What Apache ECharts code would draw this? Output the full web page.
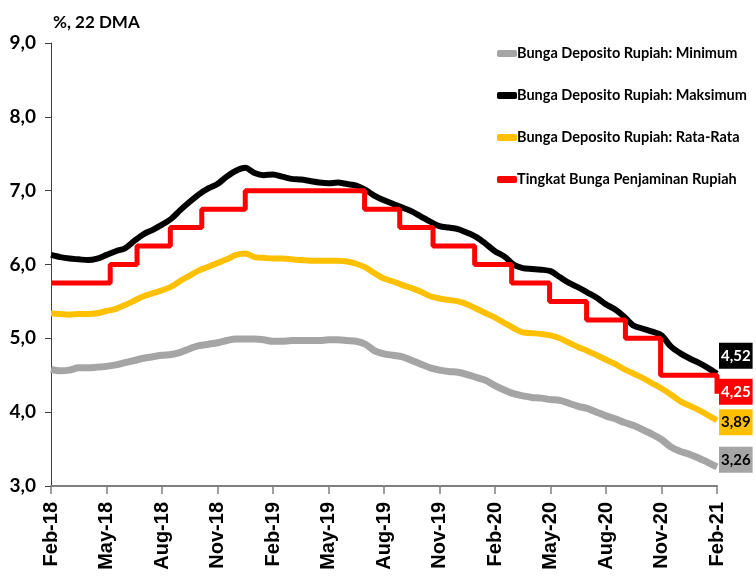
<!DOCTYPE html>
<html>
<head>
<meta charset="utf-8">
<script src="https://cdn.jsdelivr.net/npm/echarts@6/dist/echarts.min.js"></script>
<style>
  html, body { margin: 0; padding: 0; background: #fff; }
  #chart { width: 756px; height: 586px; }
</style>
</head>
<body>
<div id="chart"></div>
<script>
// x axis: months since Feb-18, one tick per quarter
var xLabels = ['Feb-18', 'May-18', 'Aug-18', 'Nov-18', 'Feb-19', 'May-19', 'Aug-19',
               'Nov-19', 'Feb-20', 'May-20', 'Aug-20', 'Nov-20', 'Feb-21'];

// 22 DMA values, sampled every half month from Feb-18 to Feb-21
var minimumVals = [4.58, 4.56, 4.57, 4.60, 4.60, 4.61, 4.62, 4.64, 4.67, 4.70,
                   4.73, 4.75, 4.77, 4.78, 4.81, 4.86, 4.90, 4.92, 4.94, 4.97,
                   4.99, 4.99, 4.99, 4.98, 4.96, 4.96, 4.97, 4.97, 4.97, 4.97,
                   4.98, 4.98, 4.97, 4.96, 4.92, 4.83, 4.79, 4.77, 4.75, 4.70,
                   4.65, 4.60, 4.57, 4.55, 4.54, 4.51, 4.47, 4.43, 4.36, 4.30,
                   4.25, 4.22, 4.20, 4.19, 4.17, 4.16, 4.12, 4.08, 4.05, 4.00,
                   3.95, 3.91, 3.86, 3.82, 3.76, 3.70, 3.63, 3.53, 3.47, 3.43,
                   3.38, 3.32, 3.26];
var maksimumVals = [6.13, 6.10, 6.08, 6.07, 6.06, 6.08, 6.13, 6.18, 6.22, 6.32,
                    6.41, 6.47, 6.54, 6.62, 6.74, 6.85, 6.95, 7.03, 7.09, 7.19,
                    7.27, 7.31, 7.24, 7.21, 7.22, 7.19, 7.16, 7.15, 7.13, 7.11,
                    7.10, 7.11, 7.09, 7.07, 7.01, 6.93, 6.87, 6.82, 6.77, 6.72,
                    6.65, 6.58, 6.52, 6.50, 6.48, 6.43, 6.37, 6.28, 6.18, 6.11,
                    6.00, 5.95, 5.94, 5.93, 5.91, 5.83, 5.75, 5.69, 5.62, 5.55,
                    5.46, 5.39, 5.29, 5.17, 5.13, 5.09, 5.04, 4.89, 4.80, 4.73,
                    4.67, 4.60, 4.52];
var rataVals = [5.34, 5.33, 5.32, 5.33, 5.33, 5.34, 5.37, 5.40, 5.45, 5.51,
                5.57, 5.61, 5.65, 5.70, 5.78, 5.85, 5.92, 5.97, 6.02, 6.07,
                6.13, 6.15, 6.10, 6.09, 6.08, 6.08, 6.07, 6.06, 6.05, 6.05,
                6.05, 6.05, 6.04, 6.01, 5.96, 5.88, 5.81, 5.77, 5.72, 5.68,
                5.63, 5.57, 5.54, 5.52, 5.50, 5.46, 5.40, 5.34, 5.28, 5.21,
                5.14, 5.08, 5.07, 5.06, 5.04, 5.00, 4.94, 4.88, 4.83, 4.77,
                4.71, 4.65, 4.58, 4.52, 4.46, 4.39, 4.32, 4.24, 4.15, 4.09,
                4.03, 3.96, 3.89];

// LPS guarantee rate: month of each change and the new rate
var lpsMonths = [0, 3.2, 4.65, 6.45, 8.15, 10.5, 16.95, 18.85, 20.65, 22.9,
                 24.9, 26.95, 28.95, 31.05, 32.95, 36];
var lpsRates = [5.75, 6.00, 6.25, 6.50, 6.75, 7.00, 6.75, 6.50, 6.25, 6.00,
                5.75, 5.50, 5.25, 5.00, 4.50, 4.25];

var seriesNames = ['Bunga Deposito Rupiah: Minimum', 'Bunga Deposito Rupiah: Maksimum',
                   'Bunga Deposito Rupiah: Rata-Rata', 'Tingkat Bunga Penjaminan Rupiah'];
var colors = ['#a5a5a5', '#000000', '#ffc000', '#ff0000'];

var narrow = "Lato, sans-serif";

function halfMonthPairs(vals) {
    return vals.map(function (v, i) { return [i / 2, v]; });
}
function comma(v, d) {
    return v.toFixed(d).replace('.', ',');
}
function endLabel(bg, fg, dy) {
    return {
        show: true,
        distance: 2,
        offset: [0, dy],
        backgroundColor: bg,
        color: fg,
        padding: [6, 2, 5, 2],
        fontFamily: narrow,
        fontWeight: 'bold',
        fontSize: 15,
        formatter: function (p) { return comma(p.value[1], 2); }
    };
}

var chart = echarts.init(document.getElementById('chart'));

var option = {
    animation: false,
    color: colors,
    title: {
        text: '%, 22 DMA',
        left: 48,
        top: 9,
        textStyle: { fontFamily: narrow, fontWeight: 'bold', fontSize: 17, color: '#000' }
    },
    legend: {
        orient: 'vertical',
        left: 492,
        top: 41,
        itemGap: 27,
        itemWidth: 20,
        itemHeight: 7,
        icon: 'roundRect',
        textStyle: { fontFamily: narrow, fontWeight: 'bold', fontSize: 14.5, color: '#000', padding: [0, 0, 0, -5] },
        data: seriesNames
    },
    grid: {
        left: 51,
        right: 39,
        top: 43,
        bottom: 100
    },
    xAxis: {
        type: 'value',
        min: 0,
        max: 36,
        interval: 3,
        splitLine: { show: false },
        axisLine: { lineStyle: { color: '#7f7f7f', width: 2 } },
        axisTick: { show: true, length: 8, lineStyle: { color: '#7f7f7f', width: 1.5 } },
        axisLabel: {
            rotate: 90,
            margin: 16,
            fontFamily: "'Liberation Sans', Arial, sans-serif",
            fontWeight: 'bold',
            fontSize: 20,
            color: '#000',
            formatter: function (v) { return xLabels[Math.round(v / 3)]; }
        }
    },
    yAxis: {
        type: 'value',
        min: 3,
        max: 9,
        interval: 1,
        splitLine: { show: false },
        axisLine: { show: true, lineStyle: { color: '#404040', width: 1 } },
        axisTick: { show: true, length: 6, lineStyle: { color: '#404040' } },
        axisLabel: {
            margin: 15,
            fontFamily: narrow,
            fontWeight: 'bold',
            fontSize: 19,
            color: '#000',
            formatter: function (v) { return comma(v, 1); }
        }
    },
    series: [{
        name: seriesNames[0],
        type: 'line',
        showSymbol: false,
        smooth: 0.3,
        lineStyle: { width: 7, color: colors[0] },
        endLabel: endLabel('#a5a5a5', '#000', -7),
        data: halfMonthPairs(minimumVals)
    }, {
        name: seriesNames[1],
        type: 'line',
        showSymbol: false,
        smooth: 0.3,
        lineStyle: { width: 6, color: colors[1] },
        endLabel: endLabel('#000000', '#fff', -18),
        data: halfMonthPairs(maksimumVals)
    }, {
        name: seriesNames[2],
        type: 'line',
        showSymbol: false,
        smooth: 0.3,
        lineStyle: { width: 6, color: colors[2] },
        endLabel: endLabel('#ffc000', '#000', 2),
        data: halfMonthPairs(rataVals)
    }, {
        name: seriesNames[3],
        type: 'line',
        showSymbol: false,
        step: 'end',
        lineStyle: { width: 5, color: colors[3] },
        endLabel: endLabel('#ff0000', '#fff', -2),
        data: lpsMonths.map(function (m, i) { return [m, lpsRates[i]]; })
    }]
};

chart.setOption(option);
</script>
</body>
</html>
